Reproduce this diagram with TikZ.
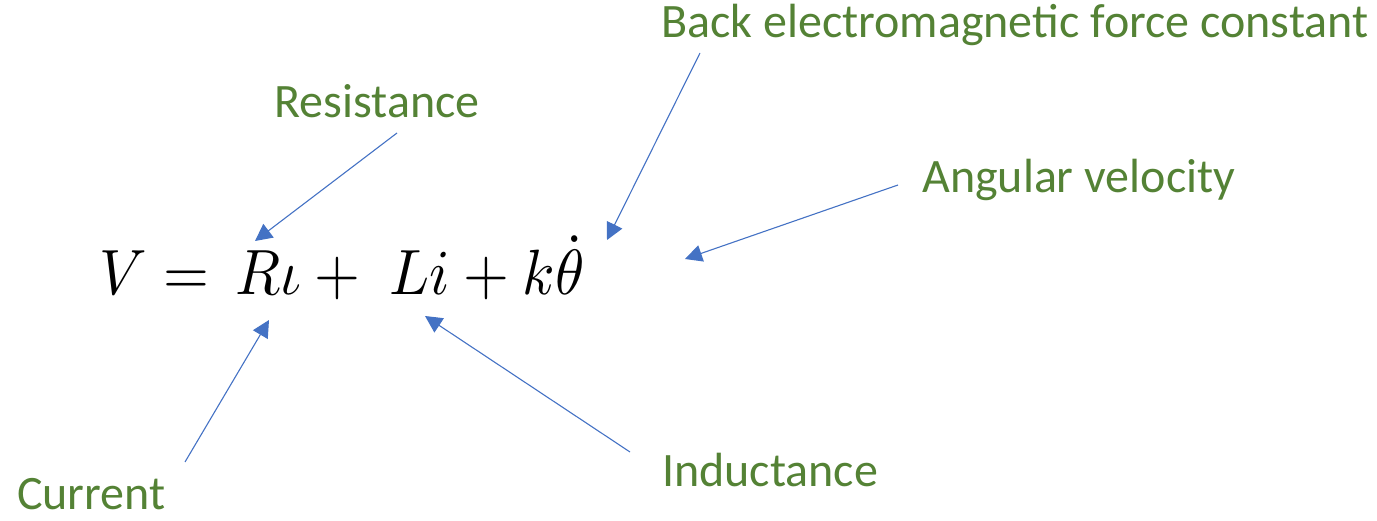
\documentclass[tikz,border=0pt]{standalone}
\usepackage{amsmath}
\usepackage{graphicx}
\usepackage{fontspec}
\setmainfont{Carlito}
\usetikzlibrary{arrows.meta,positioning}
\definecolor{lblgreen}{HTML}{548235}
\definecolor{arrblue}{HTML}{4472C4}
\begin{document}
\begin{tikzpicture}[x=1pt, y=-1pt, lbl/.style={text=lblgreen, inner sep=0pt, font=\fontsize{48}{56}\selectfont}, pointer/.style={draw=arrblue, line width=1.1pt, -{Triangle[length=17pt, width=17pt]}}]
\useasboundingbox (0,0) rectangle (1377,521);
\node[anchor=base west, inner sep=0pt] (eq) at (99,295) {\scalebox{5.9}[6.4]{$V =\, R\iota + \; Li + k\dot{\theta}$}};
\node[lbl] (res) at (377,101) {Resistance};
\node[lbl, anchor=west] (bemf) at (661,25) {Back electromagnetic force constant};
\node[lbl, anchor=west] (angv) at (922,180) {Angular velocity};
\node[lbl, anchor=west] (cur) at (17,494) {Current};
\node[lbl, anchor=west] (ind) at (662,470) {Inductance};
\coordinate (res-s) at (397,133);
\coordinate (res-e) at (255,241);
\coordinate (bemf-s) at (700,53);
\coordinate (bemf-e) at (607,240);
\coordinate (angv-s) at (898,185);
\coordinate (angv-e) at (685,259);
\coordinate (cur-s) at (185,462);
\coordinate (cur-e) at (269,320);
\coordinate (ind-s) at (630,452);
\coordinate (ind-e) at (425,316);
\draw[pointer] (res-s) -- (res-e);
\draw[pointer] (bemf-s) -- (bemf-e);
\draw[pointer] (angv-s) -- (angv-e);
\draw[pointer] (cur-s) -- (cur-e);
\draw[pointer] (ind-s) -- (ind-e);
\end{tikzpicture}
\end{document}
